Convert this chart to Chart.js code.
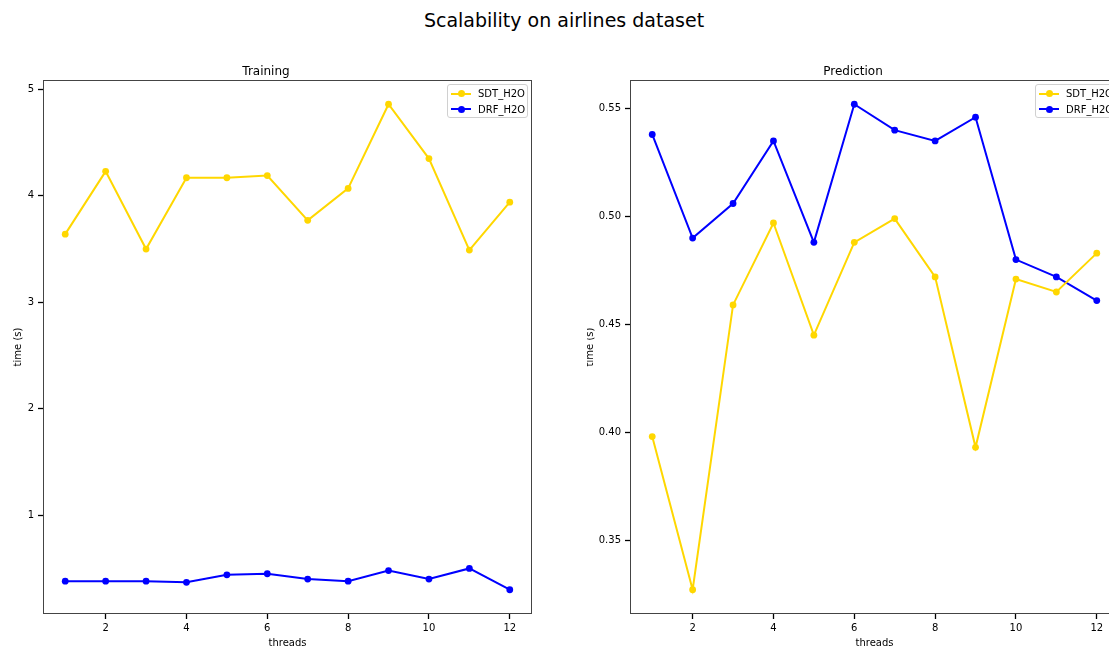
<!DOCTYPE html>
<html>
<head>
<meta charset="utf-8">
<script src="https://cdn.jsdelivr.net/npm/chart.js@4"></script>
<style>
  html, body { margin: 0; padding: 0; background: #fff; overflow: hidden; }
  body { width: 1109px; height: 648px; position: relative; font-family: 'DejaVu Sans', sans-serif; }
  #suptitle { position: absolute; top: 9px; left: 0; width: 1128px; line-height: 22px; text-align: center; font-size: 19px; color: #000; }
  canvas { position: absolute; top: 0; }
  .legend { position: absolute; top: 84px; border: 1px solid #d0d0d0; border-radius: 3px; background: rgba(255,255,255,0.8); padding: 1px 2px 0 3px; font-size: 10px; color: #000; white-space: nowrap; }
  .legend .row { display: flex; align-items: center; height: 15.5px; }
  .legend .swatch { position: relative; width: 20px; height: 2px; margin-right: 7px; }
  .legend .swatch i { position: absolute; left: 6.5px; top: -2.5px; width: 7px; height: 7px; border-radius: 50%; }
</style>
</head>
<body>
<div id="suptitle">Scalability on airlines dataset</div>
<canvas id="training" width="560" height="648" style="left:0px"></canvas>
<canvas id="prediction" width="561" height="648" style="left:587px"></canvas>
<script>
const threads = [1, 2, 3, 4, 5, 6, 7, 8, 9, 10, 11, 12]
const threadTicks = [2, 4, 6, 8, 10, 12]

const trainSDT = [3.64, 4.23, 3.50, 4.17, 4.17, 4.19, 3.77, 4.07, 4.86, 4.35, 3.49, 3.94]
const trainDRF = [0.38, 0.38, 0.38, 0.37, 0.44, 0.45, 0.40, 0.38, 0.48, 0.40, 0.50, 0.30]
const trainTicks = [1, 2, 3, 4, 5]

const predSDT = [0.398, 0.327, 0.459, 0.497, 0.445, 0.488, 0.499, 0.472, 0.393, 0.471, 0.465, 0.483]
const predDRF = [0.538, 0.490, 0.506, 0.535, 0.488, 0.552, 0.540, 0.535, 0.546, 0.480, 0.472, 0.461]
const predTicks = [0.35, 0.40, 0.45, 0.50, 0.55]

const seriesNames = ['SDT_H2O', 'DRF_H2O']
const seriesColors = ['#FFD700', '#0000FF']

const FONT = "'DejaVu Sans', sans-serif"

// draws the top and right spines too, like matplotlib
const frame = {
    id: 'frame',
    afterDraw(chart) {
        const a = chart.chartArea
        const ctx = chart.ctx
        ctx.save()
        ctx.strokeStyle = '#444'
        ctx.lineWidth = 1
        ctx.strokeRect(Math.round(a.left) + 0.5, Math.round(a.top) + 0.5,
            Math.round(a.right - a.left) - 1, Math.round(a.bottom - a.top) - 1)
        ctx.restore()
    },
}

function padded(values) {
    let lo = Math.min(...values)
    let hi = Math.max(...values)
    let m = (hi - lo) * 0.05
    return [lo - m, hi + m]
}

function makeChart(id, title, sdt, drf, yTicks, decimals, rightPad, yTitlePad, legendLeft) {
    let [ymin, ymax] = padded(sdt.concat(drf))
    let datasets = [sdt, drf].map((vals, k) => ({
        label: seriesNames[k],
        data: threads.map((t, i) => ({x: t, y: vals[i]})),
        borderColor: seriesColors[k],
        backgroundColor: seriesColors[k],
        borderWidth: 2,
        pointRadius: 3.4,
        pointHoverRadius: 3.4,
        pointBorderWidth: 0,
        tension: 0,
    }))

    let tickGrid = {
        display: true,
        drawOnChartArea: false,
        drawTicks: true,
        tickLength: 5,
        tickWidth: 1.3,
        tickColor: '#000',
    }

    let chart = new Chart(document.getElementById(id), {
        type: 'line',
        data: {datasets},
        plugins: [frame],
        options: {
            responsive: false,
            animation: false,
            devicePixelRatio: 1,
            layout: {padding: {left: 0, right: rightPad, top: 0, bottom: 0}},
            plugins: {
                legend: {display: false},
                tooltip: {enabled: false},
                title: {
                    display: true,
                    text: title,
                    color: '#000',
                    font: {family: FONT, size: 12, weight: 'normal'},
                    padding: {top: 64.6, bottom: 1},
                },
            },
            scales: {
                x: {
                    type: 'linear',
                    min: 0.45,
                    max: 12.55,
                    afterBuildTicks: (s) => { s.ticks = threadTicks.map((v) => ({value: v})) },
                    afterFit: (s) => { s.height = 34 },
                    grid: tickGrid,
                    border: {display: false},
                    ticks: {color: '#000', font: {family: FONT, size: 10}, padding: 3, autoSkip: false, maxRotation: 0},
                    title: {display: true, text: 'threads', color: '#000', font: {family: FONT, size: 10}, padding: {top: 0, bottom: -1}},
                },
                y: {
                    type: 'linear',
                    min: ymin,
                    max: ymax,
                    afterBuildTicks: (s) => { s.ticks = yTicks.map((v) => ({value: v})) },
                    afterFit: (s) => { s.width = 43 },
                    grid: tickGrid,
                    border: {display: false},
                    ticks: {
                        color: '#000',
                        font: {family: FONT, size: 10},
                        padding: 4,
                        autoSkip: false,
                        callback: (v) => Number(v).toFixed(decimals),
                    },
                    title: {display: true, text: 'time (s)', color: '#000', font: {family: FONT, size: 10}, padding: {top: yTitlePad, bottom: 0}},
                },
            },
        },
    })

    let box = document.createElement('div')
    box.className = 'legend'
    box.style.left = legendLeft + 'px'
    chart.data.datasets.forEach((ds) => {
        let row = document.createElement('div')
        row.className = 'row'
        let sw = document.createElement('span')
        sw.className = 'swatch'
        sw.style.background = ds.borderColor
        let dot = document.createElement('i')
        dot.style.background = ds.borderColor
        sw.append(dot)
        let txt = document.createElement('span')
        txt.textContent = ds.label
        row.append(sw, txt)
        box.append(row)
    })
    document.body.append(box)
    return chart
}

makeChart('training', 'Training', trainSDT, trainDRF, trainTicks, 0, 28, 12, 447)
makeChart('prediction', 'Prediction', predSDT, predDRF, predTicks, 2, 29, -3, 1035)
</script>
</body>
</html>
